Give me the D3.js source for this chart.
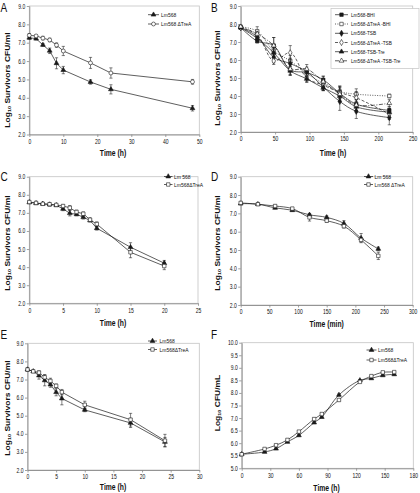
<!DOCTYPE html>
<html><head><meta charset="utf-8">
<script src="https://cdn.jsdelivr.net/npm/d3@7"></script>
<style>
body{margin:0;background:#fff}
svg{display:block}
text{font-family:"Liberation Sans",Arial,sans-serif;fill:#111}
</style>
</head><body>
<svg id="c" width="420" height="493"></svg>
<script>
// ---------- Panel A ----------
const timeA = [0,2,4,6,8,10,18,24,48];
const aLm568 = [7.27,7.22,6.88,6.56,5.88,5.51,4.86,4.46,3.43];
const aLm568Err = [0.08,0.07,0.08,0.15,0.3,0.2,0.12,0.25,0.15];
const aTreA = [7.4,7.37,7.25,7.15,6.87,6.55,5.9,5.35,4.87];
const aTreAErr = [0.1,0.05,0.1,0.1,0.12,0.25,0.3,0.28,0.13];
const aTicksX = [0,10,20,30,40,50];
const survTicksY = [2,3,4,5,6,7,8,9];

// ---------- Panel B ----------
const timeB = [0,24,48,72,96,120,144,168,216];
const bBHI = [7.8,7.05,6.8,5.45,5.3,4.9,4.15,3.55,3.2];
const bBHIErr = [0.05,0.1,0.45,0.3,0.2,0.2,0.3,0.35,0.2];
const bTreABHI = [7.85,7.6,6.5,5.95,5.25,4.7,4.25,4.1,4.0];
const bTreABHIErr = [0.05,0.25,0.3,0.3,0.2,0.25,0.3,0.3,0.1];
const bTSB = [7.8,7.3,6.15,5.8,5.35,4.5,3.7,3.15,2.8];
const bTSBErr = [0.05,0.1,0.3,0.3,0.25,0.2,0.5,0.4,0.4];
const bTreATSB = [7.8,7.4,5.95,6.4,5.0,4.6,4.2,3.9,3.0];
const bTreATSBErr = [0.05,0.1,0.2,0.4,0.25,0.3,0.35,0.35,0.3];
const bTSBTre = [7.8,7.2,6.4,5.4,4.95,4.45,4.0,3.4,3.1];
const bTSBTreErr = [0.05,0.1,0.25,0.25,0.15,0.15,0.3,0.3,0.2];
const bTreATSBTre = [7.85,7.45,6.8,5.5,5.5,4.8,4.1,3.5,3.6];
const bTreATSBTreErr = [0.05,0.15,0.45,0.3,0.25,0.3,0.4,0.3,0.2];
const bTicksX = [0,50,100,150,200,250];

// ---------- Panel C ----------
const timeC = [0,1,2,3,4,5,6,7,8,9,10,15,20];
const cLm568 = [7.58,7.53,7.5,7.46,7.42,7.22,6.98,6.92,6.76,6.58,6.15,5.1,4.22];
const cLm568Err = [0.05,0.05,0.05,0.08,0.06,0.1,0.15,0.08,0.1,0.08,0.1,0.25,0.15];
const cTreA = [7.6,7.55,7.5,7.48,7.44,7.38,7.28,7.05,6.95,6.62,6.38,4.82,4.06];
const cTreAErr = [0.05,0.04,0.05,0.05,0.05,0.08,0.12,0.1,0.1,0.1,0.12,0.3,0.2];
const cTicksX = [0,5,10,15,20,25];

// ---------- Panel D ----------
const timeD = [0,30,60,90,120,150,180,210,240];
const dLm568 = [7.53,7.5,7.3,7.17,6.92,6.78,6.45,5.65,5.06];
const dLm568Err = [0.05,0.05,0.05,0.05,0.05,0.08,0.15,0.25,0.1];
const dTreA = [7.57,7.5,7.4,7.26,6.78,6.6,6.3,5.55,4.68];
const dTreAErr = [0.05,0.05,0.06,0.06,0.2,0.08,0.1,0.1,0.2];
const dTicksX = [0,50,100,150,200,250,300];

// ---------- Panel E ----------
const timeE = [0,1,2,3,4,5,6,10,18,24];
const eLm568 = [7.55,7.45,7.22,6.95,6.72,6.3,5.95,5.32,4.6,3.55];
const eLm568Err = [0.08,0.05,0.2,0.3,0.15,0.2,0.35,0.1,0.25,0.25];
const eTreA = [7.55,7.45,7.38,7.12,6.92,6.65,6.3,5.6,4.78,3.62];
const eTreAErr = [0.08,0.05,0.1,0.15,0.15,0.1,0.15,0.2,0.35,0.35];
const eTicksX = [0,5,10,15,20,25,30];

// ---------- Panel F ----------
const timeF = [0,24,36,48,60,76,84,102,124,136,148,160];
const fLm568 = [5.56,5.65,5.78,6.05,6.31,6.82,7.04,7.92,8.5,8.58,8.7,8.74];
const fLm568Err = [0.02,0.03,0.03,0.03,0.03,0.04,0.03,0.04,0.03,0.03,0.03,0.03];
const fTreA = [5.56,5.77,5.92,6.13,6.46,6.96,7.16,7.72,8.44,8.67,8.82,8.83];
const fTreAErr = [0.02,0.03,0.03,0.03,0.03,0.04,0.03,0.04,0.03,0.03,0.03,0.03];
const fTicksX = [0,30,60,90,120,150,180];
const fTicksY = [5,5.5,6,6.5,7,7.5,8,8.5,9,9.5,10];

const svg = d3.select('#c');
const SX = 0.8; // horizontal text squeeze of the original figure
const INK = '#1a1a1a';

function sym(type){
  return {tri:d3.symbolTriangle, circle:d3.symbolCircle, square:d3.symbolSquare, diamond:d3.symbolDiamond}[type];
}
const symSize = {tri:10, circle:12, square:12, diamond:11};

function marker(g, type, filled, cx, cy){
  g.append('path')
    .attr('d', d3.symbol().type(sym(type)).size(symSize[type])())
    .attr('transform', `translate(${cx},${cy})`)
    .attr('fill', filled ? INK : '#fff')
    .attr('stroke', INK).attr('stroke-width', 0.6);
}

function htext(g, x, y, str, size, anchor, weight){
  return g.append('text')
    .attr('transform', `translate(${x},${y}) scale(${SX},1)`)
    .attr('font-size', size).attr('text-anchor', anchor || 'start')
    .attr('font-weight', weight || 'normal').text(str);
}

function panel(o){
  const g = svg.append('g');
  const x = d3.scaleLinear().domain(o.xDomain).range([o.x0, o.x1]);
  const y = d3.scaleLinear().domain(o.yDomain).range([o.yBot, o.yTop]);

  g.append('rect').attr('x', o.x0).attr('y', o.yTop)
    .attr('width', o.x1 - o.x0).attr('height', o.yBot - o.yTop)
    .attr('fill', 'none').attr('stroke', '#c4c4c4').attr('stroke-width', 0.8);

  const gx = g.append('g').attr('transform', `translate(0,${o.yBot})`)
    .call(d3.axisBottom(x).tickValues(o.xTicks).tickSize(2.5).tickSizeOuter(0).tickPadding(2.5).tickFormat(d3.format('d')));
  const gy = g.append('g').attr('transform', `translate(${o.x0},0)`)
    .call(d3.axisLeft(y).tickValues(o.yTicks).tickSize(2.5).tickSizeOuter(0).tickPadding(2.5).tickFormat(d3.format('.1f')));
  [gx, gy].forEach(a => {
    a.attr('font-family', null).attr('font-size', null);
    a.select('.domain').attr('stroke', '#8a8a8a').attr('stroke-width', 0.9);
    a.selectAll('.tick line').attr('stroke', '#8a8a8a').attr('stroke-width', 0.8);
    a.selectAll('.tick text').attr('font-size', 6.3).attr('fill', '#222')
      .attr('transform', `scale(${SX},1)`);
  });

  // series
  o.series.forEach(s => {
    const pts = s.t.map((t, i) => ({t, v: s.v[i], e: s.e ? s.e[i] : 0}));
    const line = d3.line().x(d => x(d.t)).y(d => y(d.v));
    if (o.smooth) line.curve(d3.curveCatmullRom.alpha(0.5));
    g.append('path').datum(pts).attr('d', line)
      .attr('fill', 'none').attr('stroke', INK).attr('stroke-width', 0.7)
      .attr('stroke-dasharray', s.dash || null);
    pts.forEach(d => {
      if (!d.e) return;
      const xx = x(d.t), y1 = y(d.v + d.e), y2 = y(d.v - d.e);
      g.append('line').attr('x1', xx).attr('x2', xx).attr('y1', y1).attr('y2', y2)
        .attr('stroke', INK).attr('stroke-width', 0.55);
      [y1, y2].forEach(yy => g.append('line').attr('x1', xx - 1.6).attr('x2', xx + 1.6)
        .attr('y1', yy).attr('y2', yy).attr('stroke', INK).attr('stroke-width', 0.55));
    });
    pts.forEach(d => marker(g, s.shape, s.filled, x(d.t), y(d.v)));
  });

  // legend
  const L = o.legend;
  if (L.box) {
    g.append('rect').attr('x', L.box[0]).attr('y', L.box[1])
      .attr('width', L.box[2] - L.box[0]).attr('height', L.box[3] - L.box[1])
      .attr('fill', '#fff').attr('stroke', '#c4c4c4').attr('stroke-width', 0.7);
  }
  o.series.forEach((s, i) => {
    const ly = L.ys[i];
    g.append('line').attr('x1', L.x0).attr('x2', L.x1).attr('y1', ly).attr('y2', ly)
      .attr('stroke', INK).attr('stroke-width', 0.7).attr('stroke-dasharray', s.dash || null);
    marker(g, s.shape, s.filled, (L.x0 + L.x1) / 2, ly);
    htext(g, L.tx, ly + 2.1, s.name, L.fs || 6.2);
  });

  // axis titles
  htext(g, o.xt[0], o.xt[1], o.xTitle, 8.5, 'middle', 'bold');
  const yt = g.append('text')
    .attr('transform', `translate(${o.yt[0]},${o.yt[1]}) scale(${SX},1) rotate(-90)`)
    .attr('font-size', 8.5).attr('font-weight', 'bold').attr('text-anchor', 'middle');
  yt.append('tspan').text('Log');
  yt.append('tspan').attr('font-size', 5.5).attr('dy', 1.5).text('10');
  yt.append('tspan').attr('dy', -1.5).text(o.yTitleRest);

  // panel letter
  htext(g, o.letter[0], o.letter[1], o.letter[2], 12.5, 'start', 'normal');
}

const surv = ' Survivors CFU/ml';

panel({
  x0: 29.3, x1: 199.3, yTop: 6, yBot: 134.5,
  xDomain: [0, 50], yDomain: [2, 9], xTicks: aTicksX, yTicks: survTicksY,
  xTitle: 'Time (h)', xt: [113, 156], yTitleRest: surv, yt: [9.5, 80],
  letter: [0.5, 11.5, 'A'],
  series: [
    {name: 'Lm568', t: timeA, v: aLm568, e: aLm568Err, shape: 'tri', filled: true},
    {name: 'Lm568 \u0394TreA', t: timeA, v: aTreA, e: aTreAErr, shape: 'circle', filled: false}
  ],
  legend: {x0: 148, x1: 159, tx: 161, ys: [14.7, 24]}
});

panel({
  x0: 240.7, x1: 412.7, yTop: 6, yBot: 132,
  xDomain: [0, 250], yDomain: [2, 9], xTicks: bTicksX, yTicks: survTicksY, smooth: true,
  xTitle: 'Time (h)', xt: [333, 156], yTitleRest: surv, yt: [219.5, 78],
  letter: [211, 11.5, 'B'],
  series: [
    {name: 'Lm568-BHI', t: timeB, v: bBHI, e: bBHIErr, shape: 'square', filled: true},
    {name: 'Lm568-\u0394TreA -BHI', t: timeB, v: bTreABHI, e: bTreABHIErr, shape: 'square', filled: false, dash: '1,1.4'},
    {name: 'Lm568-TSB', t: timeB, v: bTSB, e: bTSBErr, shape: 'diamond', filled: true},
    {name: 'Lm568-\u0394TreA -TSB', t: timeB, v: bTreATSB, e: bTreATSBErr, shape: 'diamond', filled: false, dash: '3,1.8'},
    {name: 'Lm568-TSB-Tre', t: timeB, v: bTSBTre, e: bTSBTreErr, shape: 'tri', filled: true},
    {name: 'Lm568-\u0394TreA -TSB-Tre', t: timeB, v: bTreATSBTre, e: bTreATSBTreErr, shape: 'tri', filled: false, dash: '4,1.5,1,1.5'}
  ],
  legend: {x0: 335, x1: 348, tx: 351, ys: [14.7, 24, 33.3, 42.5, 51.7, 60.8], box: [331, 8.5, 419, 68.5], fs: 5.9}
});

panel({
  x0: 29.3, x1: 198, yTop: 176.7, yBot: 303.3,
  xDomain: [0, 25], yDomain: [2, 9], xTicks: cTicksX, yTicks: survTicksY,
  xTitle: 'Time (h)', xt: [113, 325.5], yTitleRest: surv, yt: [9.5, 243],
  letter: [0.5, 181, 'C'],
  series: [
    {name: 'Lm 568', t: timeC, v: cLm568, e: cLm568Err, shape: 'tri', filled: true},
    {name: 'Lm568\u0394TreA', t: timeC, v: cTreA, e: cTreAErr, shape: 'square', filled: false}
  ],
  legend: {x0: 164, x1: 172.5, tx: 174, ys: [176.5, 184.5]}
});

panel({
  x0: 240.7, x1: 412.7, yTop: 176.7, yBot: 305,
  xDomain: [0, 300], yDomain: [2, 9], xTicks: dTicksX, yTicks: survTicksY, smooth: true,
  xTitle: 'Time (min)', xt: [326.7, 327], yTitleRest: surv, yt: [219.5, 243],
  letter: [211, 181, 'D'],
  series: [
    {name: 'Lm 568', t: timeD, v: dLm568, e: dLm568Err, shape: 'tri', filled: true},
    {name: 'Lm568 \u0394TreA', t: timeD, v: dTreA, e: dTreAErr, shape: 'square', filled: false}
  ],
  legend: {x0: 364, x1: 373, tx: 374.5, ys: [176.5, 184.5]}
});

panel({
  x0: 27.5, x1: 199.3, yTop: 343.3, yBot: 470,
  xDomain: [0, 30], yDomain: [2, 9], xTicks: eTicksX, yTicks: survTicksY,
  xTitle: 'Time (h)', xt: [113, 489.5], yTitleRest: surv, yt: [9.5, 408],
  letter: [0.5, 338.5, 'E'],
  series: [
    {name: 'Lm568', t: timeE, v: eLm568, e: eLm568Err, shape: 'tri', filled: true},
    {name: 'Lm568\u0394TreA', t: timeE, v: eTreA, e: eTreAErr, shape: 'square', filled: false}
  ],
  legend: {x0: 148, x1: 157, tx: 159.5, ys: [341, 349.5]}
});

panel({
  x0: 241.7, x1: 413.3, yTop: 342.7, yBot: 468.3,
  xDomain: [0, 180], yDomain: [5, 10], xTicks: fTicksX, yTicks: fTicksY, smooth: true,
  xTitle: 'Time (h)', xt: [326.5, 491], yTitleRest: ' CFU/mL', yt: [219.5, 403],
  letter: [211, 338.5, 'F'],
  series: [
    {name: 'Lm568', t: timeF, v: fLm568, e: fLm568Err, shape: 'tri', filled: true},
    {name: 'Lm568\u0394TreA', t: timeF, v: fTreA, e: fTreAErr, shape: 'square', filled: false}
  ],
  legend: {x0: 366.5, x1: 376.5, tx: 378, ys: [350, 360]}
});
</script>
</body></html>
